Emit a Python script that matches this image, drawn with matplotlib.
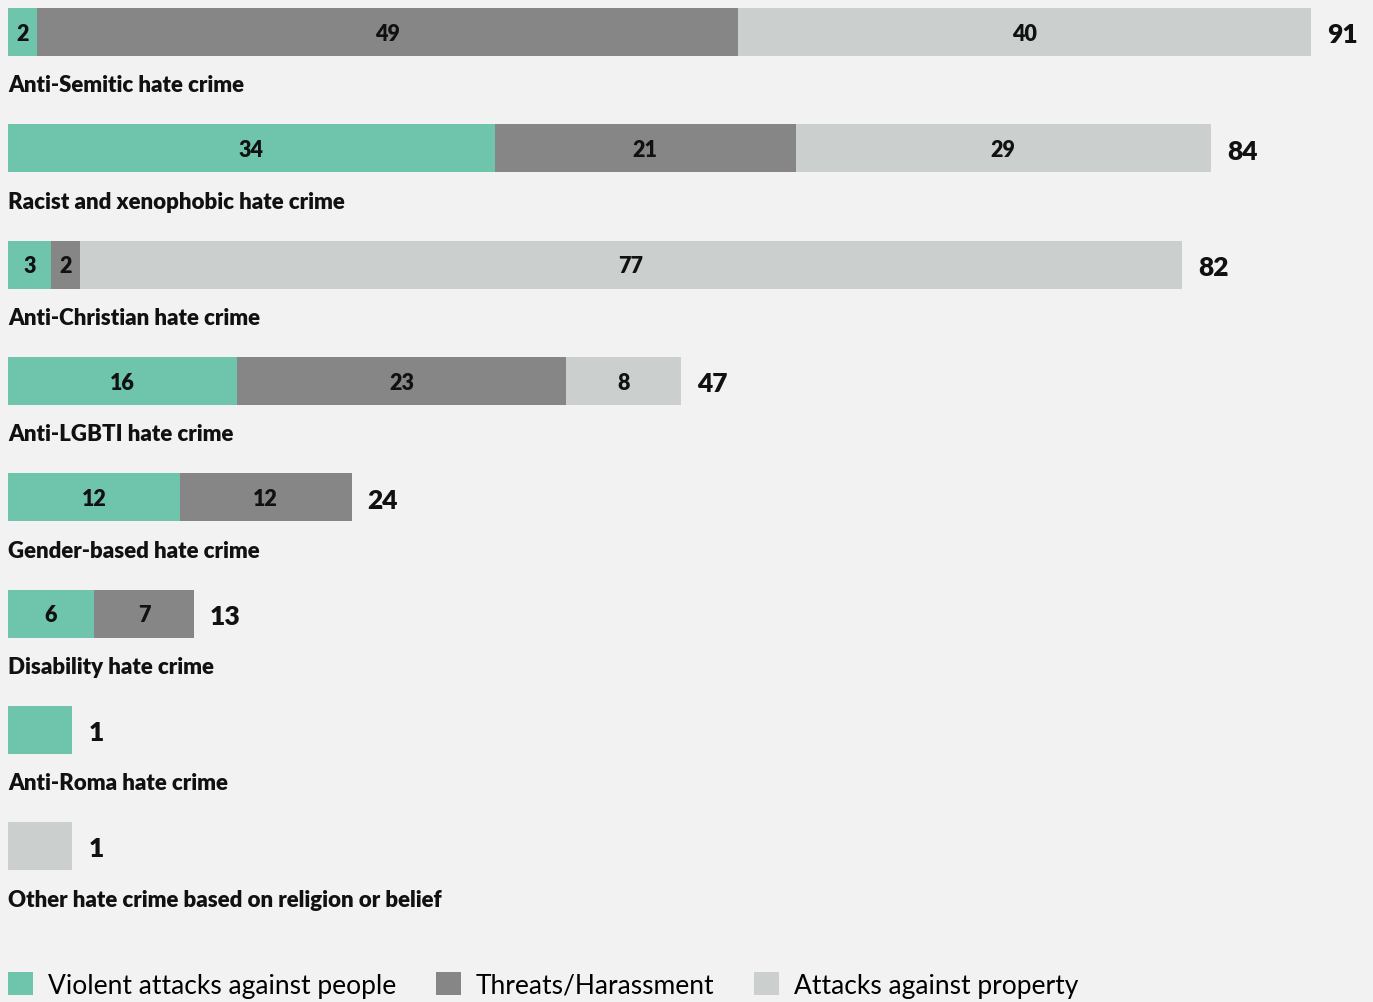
import matplotlib
matplotlib.use("Agg")
import matplotlib.pyplot as plt
from matplotlib.patches import Patch

categories = [
    "Anti-Semitic hate crime",
    "Racist and xenophobic hate crime",
    "Anti-Christian hate crime",
    "Anti-LGBTI hate crime",
    "Gender-based hate crime",
    "Disability hate crime",
    "Anti-Roma hate crime",
    "Other hate crime based on religion or belief",
]
violent = [2, 34, 3, 16, 12, 6, 1, 0]
threats = [49, 21, 2, 23, 12, 7, 0, 0]
property_ = [40, 29, 77, 8, 0, 0, 0, 1]
series_names = ["Violent attacks against people", "Threats/Harassment", "Attacks against property"]
colors = ["#6fc5ab", "#868686", "#cbcfce"]
bg = "#f2f2f2"

W, H = 1373, 1003
fig = plt.figure(figsize=(W / 100, H / 100), dpi=100, facecolor=bg)
ax = fig.add_axes([0, 0, 1, 1])
ax.set_facecolor(bg)
for s in ax.spines.values():
    s.set_visible(False)
ax.set_xticks([])
ax.set_yticks([])

px_per_unit = 14.32
row_px = 116.3
left_px = 8
ax.set_xlim(-left_px / px_per_unit, (W - left_px) / px_per_unit)
top = -33 / row_px
ax.set_ylim(top + H / row_px, top)

FONT = ["Lato", "DejaVu Sans"]
WEIGHT = "heavy"
bar_h = 48 / row_px
MIN_TOTAL = 4.5

for i, cat in enumerate(categories):
    vals = [violent[i], threats[i], property_[i]]
    total = sum(vals)
    scale = max(1.0, MIN_TOTAL / total)
    left = 0.0
    for v, c in zip(vals, colors):
        if v == 0:
            continue
        w = v * scale
        ax.barh(i, w, left=left, height=bar_h, color=c, linewidth=0)
        if total > 1:
            ax.text(left + w / 2, i + 0.01, str(v), ha="center", va="center",
                    fontsize=15.5, fontweight=WEIGHT, family=FONT, color="#111111")
        left += w
    ax.text(left + 16 / px_per_unit, i + 0.02, str(total), ha="left", va="center",
            fontsize=19, fontweight=WEIGHT, family=FONT, color="#111111")
    ax.text(0, i + 53 / row_px, cat, ha="left", va="center",
            fontsize=16, fontweight=WEIGHT, family=FONT, color="#111111")

handles = [Patch(facecolor=c, edgecolor="none", label=n) for c, n in zip(colors, series_names)]
fig.legend(handles=handles, loc="center left", bbox_to_anchor=(0.0, 1 - 986 / H),
           ncol=3, frameon=False, prop={"family": FONT, "size": 19},
           handlelength=0.95, handleheight=0.95, handletextpad=0.57, columnspacing=1.5,
           borderaxespad=0, borderpad=0.3)

fig.savefig("out.png", dpi=100, facecolor=bg)
